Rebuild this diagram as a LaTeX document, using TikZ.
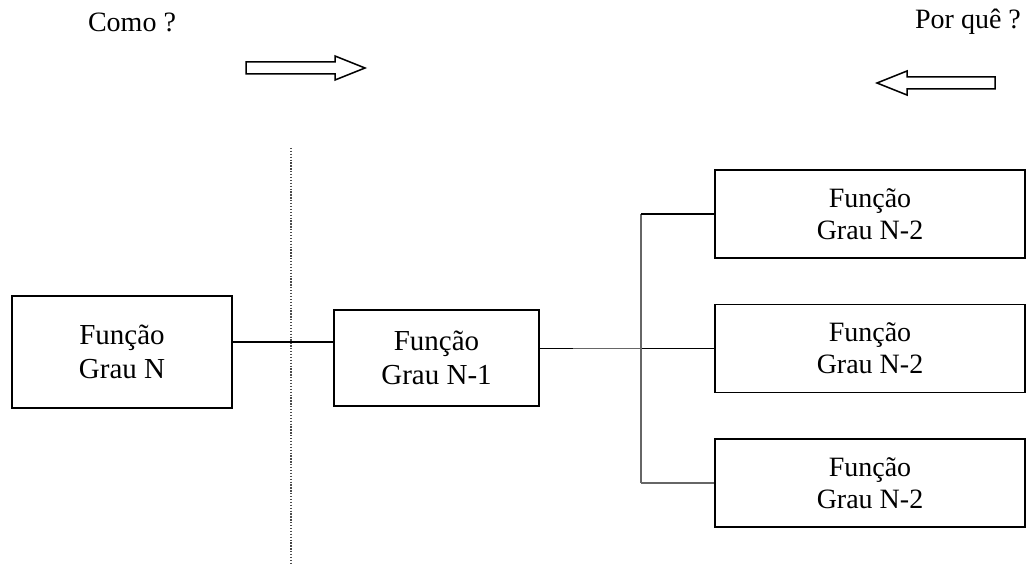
\documentclass[tikz,border=0pt]{standalone}
\usepackage{fontspec}
\setmainfont{Liberation Serif}
\usetikzlibrary{positioning}

\begin{document}
\begin{tikzpicture}[
    x=1pt, y=-1pt,
    node distance=45pt,
    func/.style={rectangle, draw, line width=1.6pt, align=center, inner sep=0pt, font=\fontsize{29}{34}\selectfont},
    leaf/.style={func, minimum width=310pt, minimum height=88pt, font=\fontsize{28}{32}\selectfont},
    title/.style={font=\fontsize{28}{34}\selectfont},
    link/.style={line width=1.3pt},
    faint/.style={line width=1.5pt, draw=black!60},
    hollow/.style={draw, line width=1.5pt, line join=miter},
    divider/.style={draw=black!70, line width=1.3pt, dash pattern=on 1.3pt off 1.6pt}
]
\useasboundingbox (0,0) rectangle (1036,564);

\node[title] (como) at (132,22) {Como ?};
\node[title] (porque) at (968,22) {Por quê ?};

% hollow direction arrows
\draw[hollow] (246,62) -- (335,62) -- (335,56) -- (365,68) -- (335,80) -- (335,74) -- (246,74) -- cycle;
\draw[hollow] (995,77) -- (907,77) -- (907,71) -- (877,83) -- (907,95) -- (907,89) -- (995,89) -- cycle;

% separator
\draw[divider] (291,148) -- (291,564);

\node[func, minimum width=220pt, minimum height=112pt] (gN) at (122,352) {Função\\Grau N};
\node[func, minimum width=205pt, minimum height=96pt] (g1) at (436.5,358) {Função\\Grau N-1};
\node[leaf] (g2a) at (870,214) {Função\\Grau N-2};
\node[leaf, below=of g2a] (g2b) {Função\\Grau N-2};
\node[leaf, below=of g2b] (g2c) {Função\\Grau N-2};

\draw[link] ([yshift=10pt]gN.east) -- ([yshift=16pt]g1.west);

\path (g2b.west) ++(-73,0) coordinate (fork);
\draw[link] (g1.east |- fork) -- ++(33,0) coordinate (fade);
\draw[faint] (fade) -- (fork);
\draw[link] (fork) -- (g2b.west);
\draw[faint] (fork |- g2a.west) -- (fork |- g2c.west);
\draw[link] (fork |- g2a.west) -- (g2a.west);
\draw[faint] (fork |- g2c.west) -- (g2c.west);
\end{tikzpicture}
\end{document}
